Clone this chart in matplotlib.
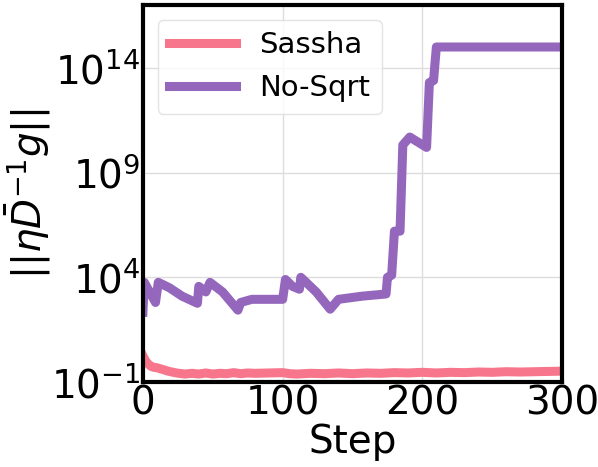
import matplotlib
matplotlib.use("Agg")
import matplotlib.pyplot as plt

# Sassha: update norm per step
sassha_steps = [0, 2, 4, 6, 8, 10, 14, 18, 24, 30, 35, 40, 45, 50, 55, 60, 65,
                70, 75, 80, 90, 100, 105, 110, 120, 130, 140, 150, 160, 170,
                180, 190, 200, 210, 220, 230, 240, 250, 260, 270, 280, 290, 300]
sassha_vals = [1.8, 1.0, 0.7, 0.55, 0.5, 0.48, 0.4, 0.33, 0.27, 0.24, 0.26,
               0.24, 0.27, 0.24, 0.26, 0.25, 0.28, 0.25, 0.27, 0.26, 0.27, 0.28,
               0.25, 0.24, 0.26, 0.25, 0.27, 0.25, 0.27, 0.26, 0.28, 0.27, 0.29,
               0.27, 0.29, 0.28, 0.3, 0.29, 0.31, 0.3, 0.31, 0.32, 0.33]

# No-Sqrt: update norm per step
nosqrt_steps = [0, 1, 9, 11, 19, 28, 39, 40, 45, 48, 57, 68, 70, 78, 100, 102,
                107, 112, 113, 124, 134, 140, 157, 174, 175, 178, 180, 184, 186,
                191, 203, 205, 208, 210, 300]
nosqrt_vals = [214, 5750, 630, 5750, 3160, 1260, 575, 3700, 2000, 5750, 2000,
               270, 630, 890, 890, 7900, 3700, 2700, 10000, 2000, 300, 890, 1260,
               1600, 10000, 12600, 1.6e6, 1.6e6, 2.1e10, 5e10, 1.6e10, 2e13,
               2.5e13, 1e15, 1e15]

fig = plt.figure(figsize=(5.98, 4.67), dpi=100)
ax = fig.add_axes([0.239, 0.182, 0.701, 0.807])

ax.plot(sassha_steps, sassha_vals, color="#f7768b", lw=6.5, label="Sassha")
ax.plot(nosqrt_steps, nosqrt_vals, color="#9467bd", lw=6.5, label="No-Sqrt")

ax.set_yscale("log")
ax.set_xlim(0, 300)
ax.set_ylim(1e-1, 1e17)
ax.set_xticks([0, 100, 200, 300])
ax.set_yticks([1e-1, 1e4, 1e9, 1e14])
ax.minorticks_off()
ax.tick_params(labelsize=28, length=0, pad=2)
ax.grid(True, color="#dddddd", lw=1)
ax.set_axisbelow(True)
for s in ax.spines.values():
    s.set_linewidth(3)
    s.set_color("black")

ax.set_xlabel("Step", fontsize=28, labelpad=0)
ax.set_ylabel(r"$||\eta\bar{D}^{-1}g||$", fontsize=28, labelpad=-2)
ax.legend(loc="upper left", fontsize=21, framealpha=0.8, edgecolor="#dddddd",
          handlelength=2.3)

fig.savefig("out.png", dpi=100)
